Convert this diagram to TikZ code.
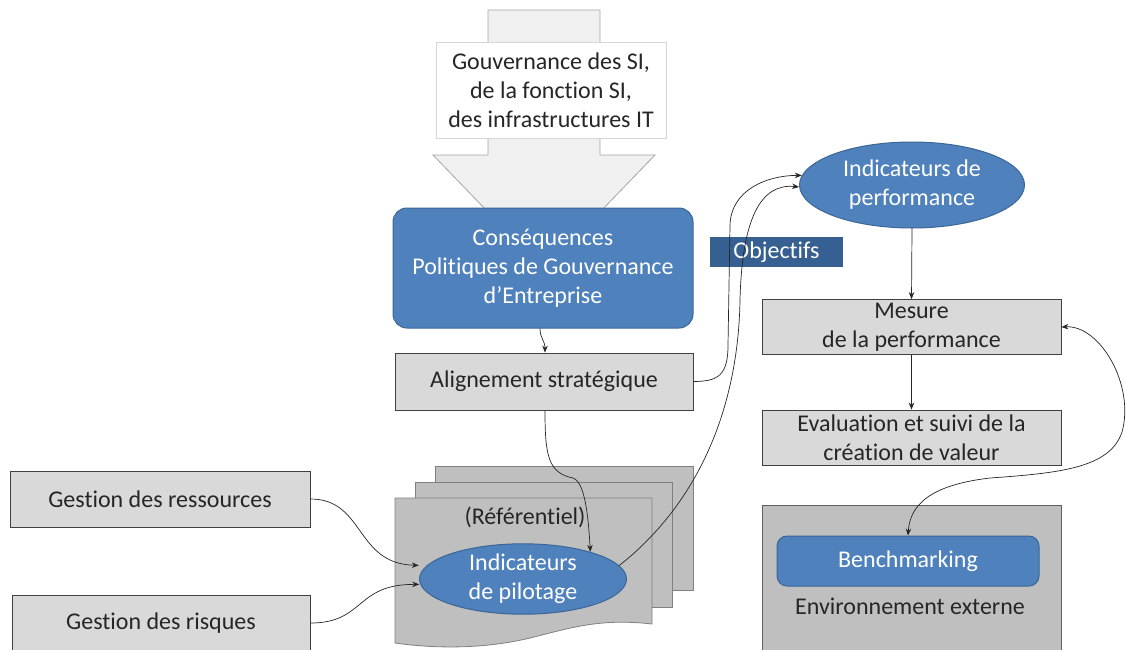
\documentclass[tikz,border=0pt]{standalone}
\usepackage{fontspec}
\setmainfont{Carlito}[Ligatures={NoCommon}]
\usetikzlibrary{arrows.meta,shapes.geometric}
\definecolor{bluefill}{HTML}{4F81BD}
\definecolor{blueborder}{HTML}{3B6696}
\definecolor{objfill}{HTML}{376092}
\definecolor{boxfill}{HTML}{D9D9D9}
\definecolor{boxborder}{HTML}{404040}
\definecolor{paperfill}{HTML}{BFBFBF}
\definecolor{paperborder}{HTML}{808080}
\definecolor{envborder}{HTML}{5F5F5F}
\definecolor{bigarrowfill}{HTML}{F0F0F0}
\definecolor{bigarrowborder}{HTML}{A6A6A6}
\definecolor{whiteborder}{HTML}{D6D6D6}
\definecolor{txt}{HTML}{262626}
\newcommand\fs{\fontsize{24}{29}\selectfont}
\begin{document}
\begin{tikzpicture}[x=1pt,y=-1pt,
  every node/.style={font=\fs, align=center, inner sep=0pt},
  graybox/.style={draw=boxborder, fill=boxfill, line width=0.8pt, text=txt},
  bluebox/.style={draw=blueborder, fill=bluefill, line width=1pt, rounded corners=14pt, text=white},
  blueell/.style={ellipse, draw=blueborder, fill=bluefill, line width=1pt, text=white},
  paper/.style={draw=paperborder, fill=paperfill, line width=0.8pt},
  arr/.style={-{Stealth[length=7pt,width=5.5pt]}, line width=0.7pt, draw=black!85},
  arrboth/.style={{Stealth[length=7pt,width=5.5pt]}-{Stealth[length=7pt,width=5.5pt]}, line width=0.7pt, draw=black!85}
]
\useasboundingbox (0,0) rectangle (1126,649);
\clip (0,0) rectangle (1126,649);
\fill[white] (0,0) rectangle (1126,649);

% big arrow
\draw[fill=bigarrowfill, draw=bigarrowborder, line width=0.8pt]
  (488,10) -- (600,10) -- (600,155) -- (655,155) -- (544,270) -- (433,155) -- (488,155) -- cycle;
\node[draw=whiteborder, fill=white, line width=0.8pt, text=txt, minimum width=230, minimum height=96] (gov) at (551,90)
  {Gouvernance des SI,\\de la fonction SI,\\des infrastructures IT};

% consequences
\node[bluebox, minimum width=300, minimum height=120] (cons) at (543,268)
  {Conséquences\\Politiques de Gouvernance\\d’Entreprise};

% alignement
\node[graybox, minimum width=298, minimum height=57] (align) at (544,381.5) {Alignement stratégique};

% paper stack
\draw[paper] (435,466) rectangle (693,590);
\draw[paper] (415,482) rectangle (672,607);
\draw[paper] (395,498) -- (652,498) -- (652,624)
  .. controls (600,618) and (570,628) .. (530,638)
  .. controls (480,650) and (430,648) .. (395,643) -- cycle;
\node[text=txt] (ref) at (525,517) {(Référentiel)};
\node[blueell, minimum width=207, minimum height=68] (pil) at (523,579) {Indicateurs\\de pilotage};

% left boxes
\node[graybox, minimum width=300, minimum height=56] (res) at (160,499) {Gestion des ressources};
\node[graybox, minimum width=298, minimum height=56] (risk) at (161,623) {Gestion des risques};

% right side
\node[blueell, minimum width=225, minimum height=86] (perf) at (912,185) {Indicateurs de\\performance};
\node[graybox, minimum width=299, minimum height=55] (mes) at (911.5,327) {Mesure\\de la performance};
\node[graybox, minimum width=299, minimum height=55] (eval) at (911.5,437.5) {Evaluation et suivi de la\\création de valeur};
\node[draw=envborder, fill=paperfill, line width=0.8pt, minimum width=299, minimum height=200, anchor=north west] (env) at (762,505) {};
\node[bluebox, rounded corners=10pt, minimum width=262, minimum height=50] (bench) at (908,561) {Benchmarking};
\node[text=txt] (envt) at (910,606) {Environnement externe};
\node[fill=objfill, text=white, minimum width=133, minimum height=30] (obj) at (776.5,252) {Objectifs};

% connectors
\draw[arr] ([xshift=-3pt]cons.south) .. controls +(0,10) and +(0,-12) .. ([xshift=1pt]align.north);
\draw[arr] ([xshift=1pt]align.south) .. controls +(0,45) and +(-25,-5) .. (573,478)
  .. controls +(12,4) and +(-2,-35) .. (pil.22);
\draw[arr] (pil.8) .. controls (690,510) and (738,420) .. (740,300)
  .. controls (742,220) and (760,183) .. (perf.181);
\draw[arr] (align.east) .. controls +(25,0) and +(0,30) .. (728,345) -- (730,225)
  .. controls +(1,-35) and +(-35,0) .. (perf.175);
\draw[arr] (perf.south) -- (mes.north);
\draw[arr] (mes.south) -- (eval.north);
\draw[arrboth] (mes.east) .. controls (1100,325) and (1135,385) .. (1122,432)
  .. controls (1110,468) and (1060,473) .. (990,478)
  .. controls (930,485) and (910,505) .. (bench.north);
\draw[arr, shorten >=8pt] (res.east) .. controls (365,499) and (355,564) .. (pil.172);
\draw[arr, shorten >=1pt] (risk.east) .. controls (365,623) and (355,584) .. (pil.183);
\end{tikzpicture}
\end{document}
